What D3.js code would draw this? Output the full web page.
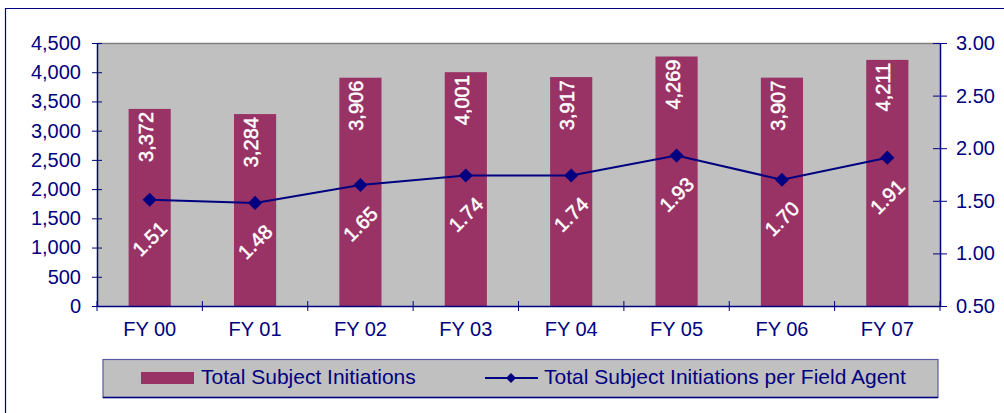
<!DOCTYPE html>
<html>
<head>
<meta charset="utf-8">
<script src="https://cdn.jsdelivr.net/npm/d3@7"></script>
<style>
  body { margin: 0; background: #fff; }
  svg text { font-family: "Liberation Sans", Arial, sans-serif; }
  .eixo text { fill: #000080; font-size: 20px; }
  .eixo path, .eixo line { stroke: #000080; }
  .rotulo { fill: #fff; font-size: 20px; stroke: #fff; stroke-width: 0.5px; }
  .legenda text { fill: #000080; font-size: 21px; }
</style>
</head>
<body>
<svg id="grafico"></svg>
<script>
const anos = ['FY 00', 'FY 01', 'FY 02', 'FY 03', 'FY 04', 'FY 05', 'FY 06', 'FY 07'];
const iniciacoes = [3372, 3284, 3906, 4001, 3917, 4269, 3907, 4211];
const porAgente = [1.51, 1.48, 1.65, 1.74, 1.74, 1.93, 1.70, 1.91];
const ticksEsquerda = [0, 500, 1000, 1500, 2000, 2500, 3000, 3500, 4000, 4500];
const ticksDireita = [0.5, 1.0, 1.5, 2.0, 2.5, 3.0];

const largura = 1004, altura = 413;
const margem = { esquerda: 97, direita: 64, superior: 43, inferior: 107 };
const larguraPlotagem = largura - margem.esquerda - margem.direita;
const alturaPlotagem = altura - margem.superior - margem.inferior;

const svg = d3.select('#grafico').attr('width', largura).attr('height', altura);

// moldura externa
svg.append('path')
    .attr('d', `M5.5,${altura} V8.5 H${largura}`)
    .attr('fill', 'none')
    .attr('stroke', '#000080')
    .attr('stroke-width', 1.2);

const plotagem = svg.append('g')
    .attr('transform', `translate(${margem.esquerda}, ${margem.superior})`);

plotagem.append('rect')
    .attr('width', larguraPlotagem)
    .attr('height', alturaPlotagem)
    .attr('fill', '#c0c0c0');
plotagem.append('line')
    .attr('x1', 0).attr('x2', larguraPlotagem)
    .attr('y1', 0.5).attr('y2', 0.5)
    .attr('stroke', '#808080').attr('stroke-width', 1.5);

const x = d3.scaleBand().domain(anos).range([0, larguraPlotagem]).paddingInner(0.6).paddingOuter(0.3);
const xPontos = d3.scalePoint().domain(anos).range([0, larguraPlotagem]).padding(0.5);
const y = d3.scaleLinear().domain([0, 4500]).range([alturaPlotagem, 0]);
const y2 = d3.scaleLinear().domain([0.5, 3.0]).range([alturaPlotagem, 0]);

// barras
plotagem.selectAll('.barra')
    .data(iniciacoes)
    .enter().append('rect')
    .classed('barra', true)
    .attr('x', (d, i) => x(anos[i]))
    .attr('y', d => y(d))
    .attr('width', x.bandwidth())
    .attr('height', d => alturaPlotagem - y(d))
    .attr('fill', '#993366');

// eixos
const eixoX = d3.axisBottom(x).tickSize(0).tickPadding(16);
const gX = plotagem.append('g').classed('eixo', true)
    .attr('transform', `translate(0, ${alturaPlotagem})`)
    .call(eixoX);
gX.select('.domain').attr('stroke-width', 1.5);
// marcas entre categorias, cruzando o eixo
const passo = larguraPlotagem / anos.length;
gX.selectAll('.divisa')
    .data(d3.range(anos.length + 1))
    .enter().append('line')
    .attr('x1', d => d * passo).attr('x2', d => d * passo)
    .attr('y1', -5).attr('y2', 5)
    .attr('stroke', '#000080');

const eixoY = d3.axisLeft(y).tickValues(ticksEsquerda).tickFormat(d3.format(',')).tickSizeInner(5).tickSizeOuter(0).tickPadding(11);
const gY = plotagem.append('g').classed('eixo', true).call(eixoY);
gY.selectAll('.tick line').attr('x2', 5).attr('x1', -5);
gY.select('.domain').attr('stroke-width', 1.5);

const eixoY2 = d3.axisRight(y2).tickValues(ticksDireita).tickFormat(d3.format('.2f')).tickSizeInner(7).tickSizeOuter(0).tickPadding(9);
const gY2 = plotagem.append('g').classed('eixo', true)
    .attr('transform', `translate(${larguraPlotagem}, 0)`)
    .call(eixoY2);
gY2.selectAll('.tick line').attr('x1', -7).attr('x2', 7);
gY2.select('.domain').attr('stroke-width', 1.5);

// linha
const linha = d3.line()
    .x((d, i) => xPontos(anos[i]))
    .y(d => y2(d));
plotagem.append('path')
    .datum(porAgente)
    .attr('d', linha)
    .attr('fill', 'none')
    .attr('stroke', '#000080')
    .attr('stroke-width', 2);

const losango = d3.symbol(d3.symbolSquare, 100);
plotagem.selectAll('.ponto')
    .data(porAgente)
    .enter().append('path')
    .classed('ponto', true)
    .attr('d', losango)
    .attr('transform', (d, i) => `translate(${xPontos(anos[i])}, ${y2(d)}) rotate(45)`)
    .attr('fill', '#000080');

// rótulos das barras
plotagem.selectAll('.rotuloBarra')
    .data(iniciacoes)
    .enter().append('text')
    .attr('class', 'rotulo')
    .attr('text-anchor', 'end')
    .attr('transform', (d, i) => `translate(${xPontos(anos[i]) + 3}, ${y(d) + 3}) rotate(-90)`)
    .text(d => d3.format(',')(d));

// rótulos da linha
plotagem.selectAll('.rotuloLinha')
    .data(porAgente)
    .enter().append('text')
    .attr('class', 'rotulo')
    .attr('text-anchor', 'middle')
    .attr('dy', '0.35em')
    .attr('transform', (d, i) => `translate(${xPontos(anos[i])}, ${y2(d) + 39}) rotate(-45)`)
    .text(d => d3.format('.2f')(d));

// legenda
const legenda = svg.append('g').classed('legenda', true);
legenda.append('rect')
    .attr('x', 103).attr('y', 359.5)
    .attr('width', 835).attr('height', 38)
    .attr('fill', '#c0c0c0')
    .attr('stroke', '#5a5aa8')
    .attr('stroke-width', 1.2);
legenda.append('line')
    .attr('x1', 103).attr('x2', 938)
    .attr('y1', 397.5).attr('y2', 397.5)
    .attr('stroke', '#000080').attr('stroke-width', 1.5);
legenda.append('rect')
    .attr('x', 141).attr('y', 372)
    .attr('width', 53).attr('height', 12)
    .attr('fill', '#993366');
legenda.append('text')
    .attr('x', 201).attr('y', 384)
    .text('Total Subject Initiations');
legenda.append('line')
    .attr('x1', 485).attr('x2', 538)
    .attr('y1', 378).attr('y2', 378)
    .attr('stroke', '#000080').attr('stroke-width', 2);
legenda.append('path')
    .attr('d', d3.symbol(d3.symbolSquare, 50))
    .attr('transform', 'translate(511, 378) rotate(45)')
    .attr('fill', '#000080');
legenda.append('text')
    .attr('x', 544).attr('y', 384)
    .text('Total Subject Initiations per Field Agent');
</script>
</body>
</html>
